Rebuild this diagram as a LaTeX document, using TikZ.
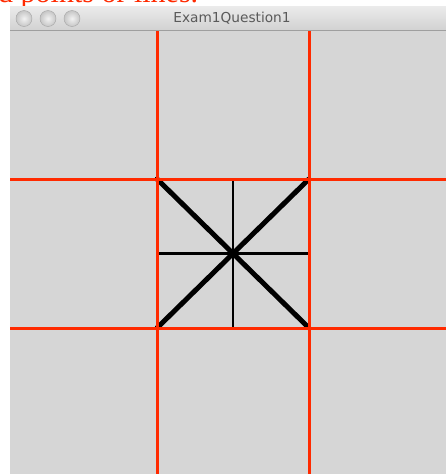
\documentclass[tikz,border=0pt]{standalone}
\usepackage{fontspec}
\setmainfont{Liberation Serif}
\newfontfamily\uifont{DejaVu Sans}
\definecolor{bgwin}{HTML}{D6D6D6}
\definecolor{redline}{HTML}{FF2A00}
\definecolor{titletop}{HTML}{EBEBEB}
\definecolor{titlebot}{HTML}{D2D2D2}
\definecolor{titletext}{HTML}{5A5A5A}
\tikzset{
  redgrid/.style={draw=redline, line width=3pt},
  thinblack/.style={draw=black, line width=2.6pt},
  thickblack/.style={draw=black, line width=5pt, line cap=round},
  winbtn/.style={circle, minimum size=16pt, inner sep=0pt, draw=gray!70, shading=radial, inner color=white!90!gray, outer color=gray!45}
}
\begin{document}
\begin{tikzpicture}[x=1pt,y=-1pt]
\useasboundingbox (0,0) rectangle (446,474);
\fill[white] (0,0) rectangle (446,474);
% clipped caption text from above
\begin{scope}
\clip (0,0) rectangle (446,6);
\node[anchor=base west, inner sep=0pt, text=redline, font=\fontsize{30}{30}\selectfont] (cap) at (-2,2.5) {d points or lines.};
\end{scope}
% title bar
\shade[top color=titletop, bottom color=titlebot] (10,6) rectangle (446,30);
\draw[gray!75, line width=1pt] (10,30.5) -- (446,30.5);
\node[winbtn] (b1) at (24,18.5) {};
\node[winbtn] (b2) at (48,18.5) {};
\node[winbtn] (b3) at (72,18.5) {};
\node[text=titletext, font=\uifont\fontsize{13.7}{13.7}\selectfont] (title) at (232,18.5) {Exam1Question1};
% content
\fill[bgwin] (10,31) rectangle (446,474);
\coordinate (tl) at (157,179);
\coordinate (tr) at (309,179);
\coordinate (bl) at (157,328);
\coordinate (br) at (309,328);
% black lines
\draw[thinblack] (233,179) -- (233,328);
\draw[thinblack] (157,253.5) -- (309,253.5);
\draw[thickblack] (tl) -- (br);
\draw[thickblack] (tr) -- (bl);
% red grid
\draw[redgrid] (157,31) -- (157,474);
\draw[redgrid] (309,31) -- (309,474);
\draw[redgrid] (10,179) -- (446,179);
\draw[redgrid] (10,328) -- (446,328);
\end{tikzpicture}
\end{document}
